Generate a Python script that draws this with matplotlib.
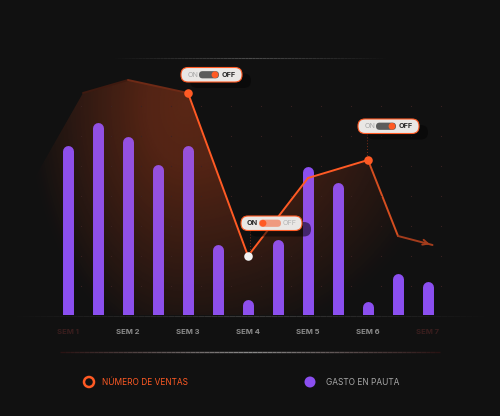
import numpy as np
import matplotlib
matplotlib.use("Agg")
import matplotlib.pyplot as plt
from matplotlib.patches import FancyBboxPatch, Circle, Polygon
from matplotlib.collections import LineCollection
from matplotlib.colors import to_rgb

# data (bars: gasto en pauta, line: numero de ventas)
bar_pos = list(range(13))
gasto = [85, 96.5, 89.5, 75.5, 85, 35.5, 8, 38, 74.5, 66.5, 7, 21, 17]
ventas_x = [0.5, 2, 4, 6, 8, 10, 11, 12.15]
ventas_y = [111, 117.5, 111, 29.5, 68.5, 77.5, 39.5, 35]
tick_pos = [0, 2, 4, 6, 8, 10, 12]
tick_labels = ["SEM 1", "SEM 2", "SEM 3", "SEM 4", "SEM 5", "SEM 6", "SEM 7"]

BG = "#111111"
ORANGE = "#ff5a24"
PURPLE = "#8b4ff0"
plt.rcParams["font.family"] = ["Inter", "DejaVu Sans"]

fig = plt.figure(figsize=(5, 4.16), dpi=100, facecolor=BG)
ax = fig.add_axes([0, (416 - 315) / 416, 1, 275 / 416])
ax.set_facecolor("none")
ax.set_xlim(-68 / 30, 432 / 30)
ax.set_ylim(0, 137.5)
for s in ax.spines.values():
    s.set_visible(False)
ax.set_yticks([])

# glow under the line
ext = (-68 / 30, 432 / 30, 0, 137.5)
poly = [(-2.2, 0), (-2.2, 40), (ventas_x[0], ventas_y[0])] + list(zip(ventas_x, ventas_y)) + [(ventas_x[-1], 0)]
gx, gy = np.meshgrid(np.linspace(ext[0], ext[1], 400), np.linspace(ext[3], ext[2], 220))
d = np.sqrt(((gx - 3.9) / 5.3) ** 2 + ((gy - 105) / 125) ** 2)
d_right = np.sqrt(((gx - 3.9) / 9.0) ** 2 + ((gy - 105) / 125) ** 2)
d = np.where(gx > 3.9, d_right, d)
inten = np.clip(1 - d, 0, 1) ** 1.0
img = np.zeros(gx.shape + (4,))
img[..., :3] = to_rgb("#3f1c12")
img[..., 3] = np.clip(inten * 1.35, 0, 1)
clip = Polygon(poly, closed=True, transform=ax.transData, fc="none", ec="none")
ax.add_patch(clip)
im = ax.imshow(img, extent=ext, aspect="auto", zorder=1, interpolation="bilinear")
im.set_clip_path(clip)

# bars with rounded tops (bottom cap clipped by axes)
r = 2.75
ax.vlines(bar_pos, 0, [g - r for g in gasto], colors=PURPLE, linewidth=7.9,
          capstyle="round", zorder=3)

# warm tint over the bars inside the glow
tint = np.zeros(gx.shape + (4,))
tint[..., :3] = to_rgb("#ff6a30")
tint[..., 3] = 0.14 * inten
im2 = ax.imshow(tint, extent=ext, aspect="auto", zorder=3.5, interpolation="bilinear")
clip2 = Polygon(poly, closed=True, transform=ax.transData, fc="none", ec="none")
ax.add_patch(clip2)
im2.set_clip_path(clip2)

# line
seg_cols = ["#3e1a10", "#6e2a16", ORANGE, ORANGE, ORANGE, "#d44e20", "#a33c1c"]
pts = list(zip(ventas_x, ventas_y))
segs = [[pts[i], pts[i + 1]] for i in range(len(pts) - 1)]
ax.add_collection(LineCollection(segs, colors=seg_cols, linewidths=1.4, zorder=4, capstyle="round"))
ax.annotate("", xy=pts[-1], xytext=(pts[-1][0] - 0.3, pts[-1][1] + 1.3),
            arrowprops=dict(arrowstyle="->", color="#a33c1c", lw=1.4, mutation_scale=9), zorder=4)

ax.scatter([ventas_x[2], ventas_x[5]], [ventas_y[2], ventas_y[5]], s=38, color=ORANGE, zorder=6, lw=0)
ax.scatter([ventas_x[3]], [ventas_y[3]], s=38, color="#f2f2f2", zorder=6, lw=0)

ax.set_xticks(tick_pos)
ax.set_xticklabels(tick_labels, fontsize=5.5, fontweight="bold")
ax.tick_params(axis="x", length=0, pad=10)
for i, t in enumerate(ax.get_xticklabels()):
    t.set_color("#3a1e1e" if i in (0, len(tick_labels) - 1) else "#8c8c8c")

# overlay in pixel coordinates for decorations
ov = fig.add_axes([0, 0, 1, 1], zorder=5)
ov.set_xlim(0, 500)
ov.set_ylim(416, 0)
ov.axis("off")
ov.patch.set_alpha(0)


def grad_line(x0, x1, y, cmid, cend, lw):
    xs = np.linspace(x0, x1, 80)
    cm, ce = np.array(to_rgb(cmid)), np.array(to_rgb(cend))
    segs = [[(xs[i], y), (xs[i + 1], y)] for i in range(len(xs) - 1)]
    cols = []
    for i in range(len(xs) - 1):
        t = abs((i / (len(xs) - 2)) - 0.5) * 2
        cols.append(cm * (1 - t) + ce * t)
    ov.add_collection(LineCollection(segs, colors=cols, linewidths=lw))


grad_line(10, 490, 315.5, "#3a3a3a", BG, 0.8)
grad_line(60, 440, 352, "#8a8a8a", "#2a1414", 1.0)
grad_line(110, 390, 57.5, "#4a4a4a", BG, 0.8)

# faint dot grid
dx, dy = np.meshgrid(np.arange(81, 470, 30), np.arange(106, 300, 30))
ov.scatter(dx.ravel(), dy.ravel(), s=0.7, color="#3e2222", lw=0, zorder=0)


def toggle(x, y, on):
    w, h = 61, 14.5
    ov.add_patch(FancyBboxPatch((x + 9, y + 6), w, h, boxstyle="round,pad=0,rounding_size=7",
                                fc="#050505", ec="none", alpha=0.55, zorder=6))
    ov.add_patch(FancyBboxPatch((x, y), w, h, boxstyle="round,pad=0,rounding_size=7",
                                fc="#e9e7e5", ec=ORANGE, lw=0.8, zorder=7))
    cy = y + h / 2
    if on:
        ov.text(x + 11, cy, "ON", fontsize=5.2, color="#2a2a2a", fontweight="bold", ha="center", va="center", zorder=9)
        ov.add_patch(FancyBboxPatch((x + 18, cy - 3.6), 22, 7.2, boxstyle="round,pad=0,rounding_size=3.6",
                                    fc="#ef9a80", ec="none", zorder=8))
        ov.add_patch(Circle((x + 22, cy), 3.4, fc=ORANGE, ec="none", zorder=9))
        ov.text(x + 49, cy, "OFF", fontsize=5.2, color="#b4b4b4", ha="center", va="center", zorder=9)
    else:
        ov.text(x + 12, cy, "ON", fontsize=5.2, color="#a8a8a8", ha="center", va="center", zorder=9)
        ov.add_patch(FancyBboxPatch((x + 18, cy - 3.6), 20, 7.2, boxstyle="round,pad=0,rounding_size=3.6",
                                    fc="#5c5c5c", ec="none", zorder=8))
        ov.add_patch(Circle((x + 34, cy), 3.4, fc=ORANGE, ec="none", zorder=9))
        ov.text(x + 48, cy, "OFF", fontsize=5.2, color="#2a2a2a", fontweight="bold", ha="center", va="center", zorder=9)


toggle(181, 67.5, False)
toggle(241, 216, True)
toggle(358, 119, False)
ov.plot([367, 367], [134, 156], color="#7a2e18", lw=0.7, ls=(0, (1, 2)), zorder=5)
ov.plot([250, 250], [231, 252], color="#7a2e18", lw=0.7, ls=(0, (1, 2)), zorder=5)

# legend
ov.add_patch(Circle((89, 382), 5, fill=False, ec=ORANGE, lw=1.8))
ov.text(102, 382.5, "NÚMERO DE VENTAS", fontsize=6, color=ORANGE, va="center")
ov.add_patch(Circle((310, 382), 5.5, fc=PURPLE, ec="none"))
ov.text(326, 382.5, "GASTO EN PAUTA", fontsize=6, color="#a8a8a8", va="center")

fig.savefig("out.png", dpi=100, facecolor=BG)
